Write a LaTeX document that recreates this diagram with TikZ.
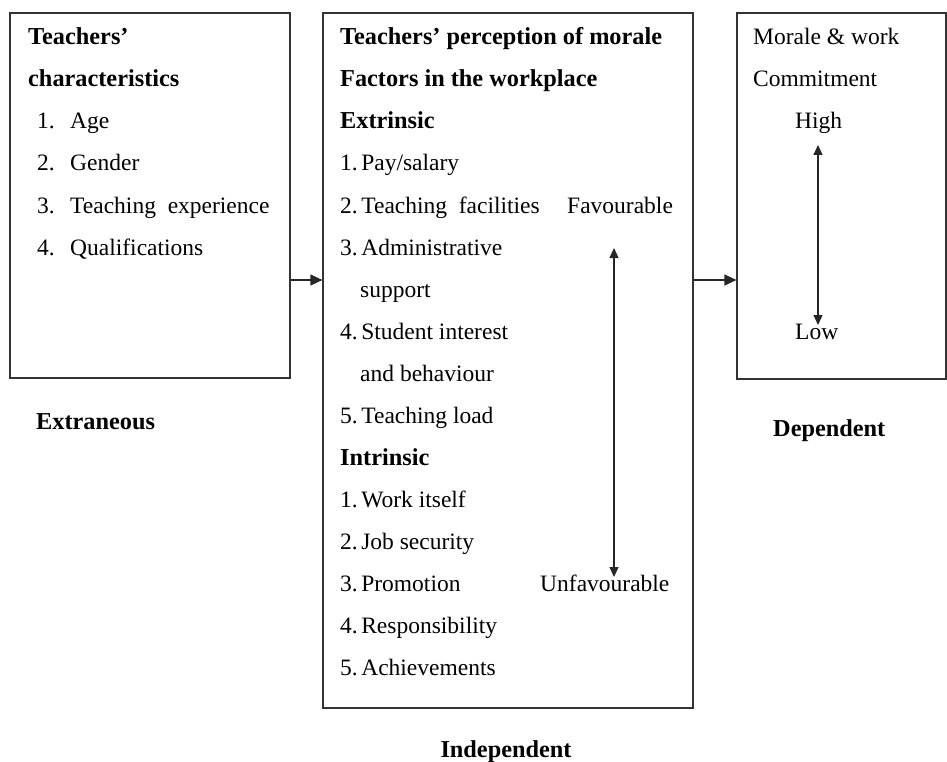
\documentclass[tikz,border=0pt]{standalone}
\usepackage{fontspec}
\setmainfont{Liberation Serif}
\usetikzlibrary{arrows.meta}
\newcommand{\nsp}{\hspace{3.5pt}}
\begin{document}
\begin{tikzpicture}[x=1pt,y=-1pt,
  boxst/.style={draw=black!80,line width=1.2pt,rectangle,inner sep=0pt},
  txt/.style={anchor=base west,inner sep=0pt,font=\fontsize{23.5}{24}\selectfont},
  btxt/.style={txt,font=\fontsize{24.3}{25}\selectfont\bfseries},
  arr/.style={line width=1.2pt,black!85,-{Triangle[length=12pt,width=11pt]}},
  darr/.style={line width=1.2pt,black!85,{Triangle[length=10pt,width=9pt]}-{Triangle[length=10pt,width=9pt]}}]
\useasboundingbox (0,0) rectangle (947,762);
% boxes
\node[boxst,minimum width=280pt,minimum height=365pt] (b1) at (150,195.5) {};
\node[boxst,minimum width=370pt,minimum height=695pt] (b2) at (508,360.5) {};
\node[boxst,minimum width=209pt,minimum height=366pt] (b3) at (841.5,196) {};
% box 1 text
\node[btxt] (t1a) at (28,45) {Teachers’};
\node[btxt] (t1b) at (28,87) {characteristics};
\node[txt] (n11) at (37,129) {1.};\node[txt] (i11) at (70,129) {Age};
\node[txt] (n12) at (37,171) {2.};\node[txt] (i12) at (70,171) {Gender};
\node[txt] (n13) at (37,213) {3.};\node[txt] (i13) at (70,213) {Teaching\ \ experience};
\node[txt] (n14) at (37,255) {4.};\node[txt] (i14) at (70,255) {Qualifications};
% box 2 text
\node[btxt] (h2a) at (340,45) {Teachers’ perception of morale};
\node[btxt] (h2b) at (340,87) {Factors in the workplace};
\node[btxt] (h2c) at (340,129) {Extrinsic};
\node[txt] (e1) at (340,171) {1.\nsp Pay/salary};
\node[txt] (e2) at (340,213) {2.\nsp Teaching\ \ facilities};
\node[txt] (e3) at (340,255) {3.\nsp Administrative};
\node[txt] (e3b) at (360,297) {support};
\node[txt] (e4) at (340,339) {4.\nsp Student interest};
\node[txt] (e4b) at (360,381) {and behaviour};
\node[txt] (e5) at (340,423) {5.\nsp Teaching load};
\node[btxt] (h2d) at (340,465) {Intrinsic};
\node[txt] (r1) at (340,507) {1.\nsp Work itself};
\node[txt] (r2) at (340,549) {2.\nsp Job security};
\node[txt] (r3) at (340,591) {3.\nsp Promotion};
\node[txt] (r4) at (340,633) {4.\nsp Responsibility};
\node[txt] (r5) at (340,675) {5.\nsp Achievements};
\node[txt] (fav) at (567,213) {Favourable};
\node[txt] (unf) at (540,591) {Unfavourable};
% box 3 text
\node[txt] (m1) at (753,45) {Morale \& work};
\node[txt] (m2) at (753,87) {Commitment};
\node[txt] (hi) at (795,129) {High};
\node[txt] (lo) at (795,339) {Low};
% labels
\node[btxt] (lx) at (36,429) {Extraneous};
\node[btxt] (ld) at (773,436) {Dependent};
\node[btxt,anchor=base] (li) at (506,757) {Independent};
% connectors
\coordinate (ay) at (0,280);
\draw[arr] (b1.east |- ay) -- (b2.west |- ay);
\draw[arr] (b2.east |- ay) -- (b3.west |- ay);
\coordinate (fa) at (614,248);
\coordinate (fb) at (614,577);
\draw[darr] (fa) -- (fb);
\coordinate (ha) at (818,145);
\coordinate (hb) at (818,325);
\draw[darr] (ha) -- (hb);
\end{tikzpicture}
\end{document}
